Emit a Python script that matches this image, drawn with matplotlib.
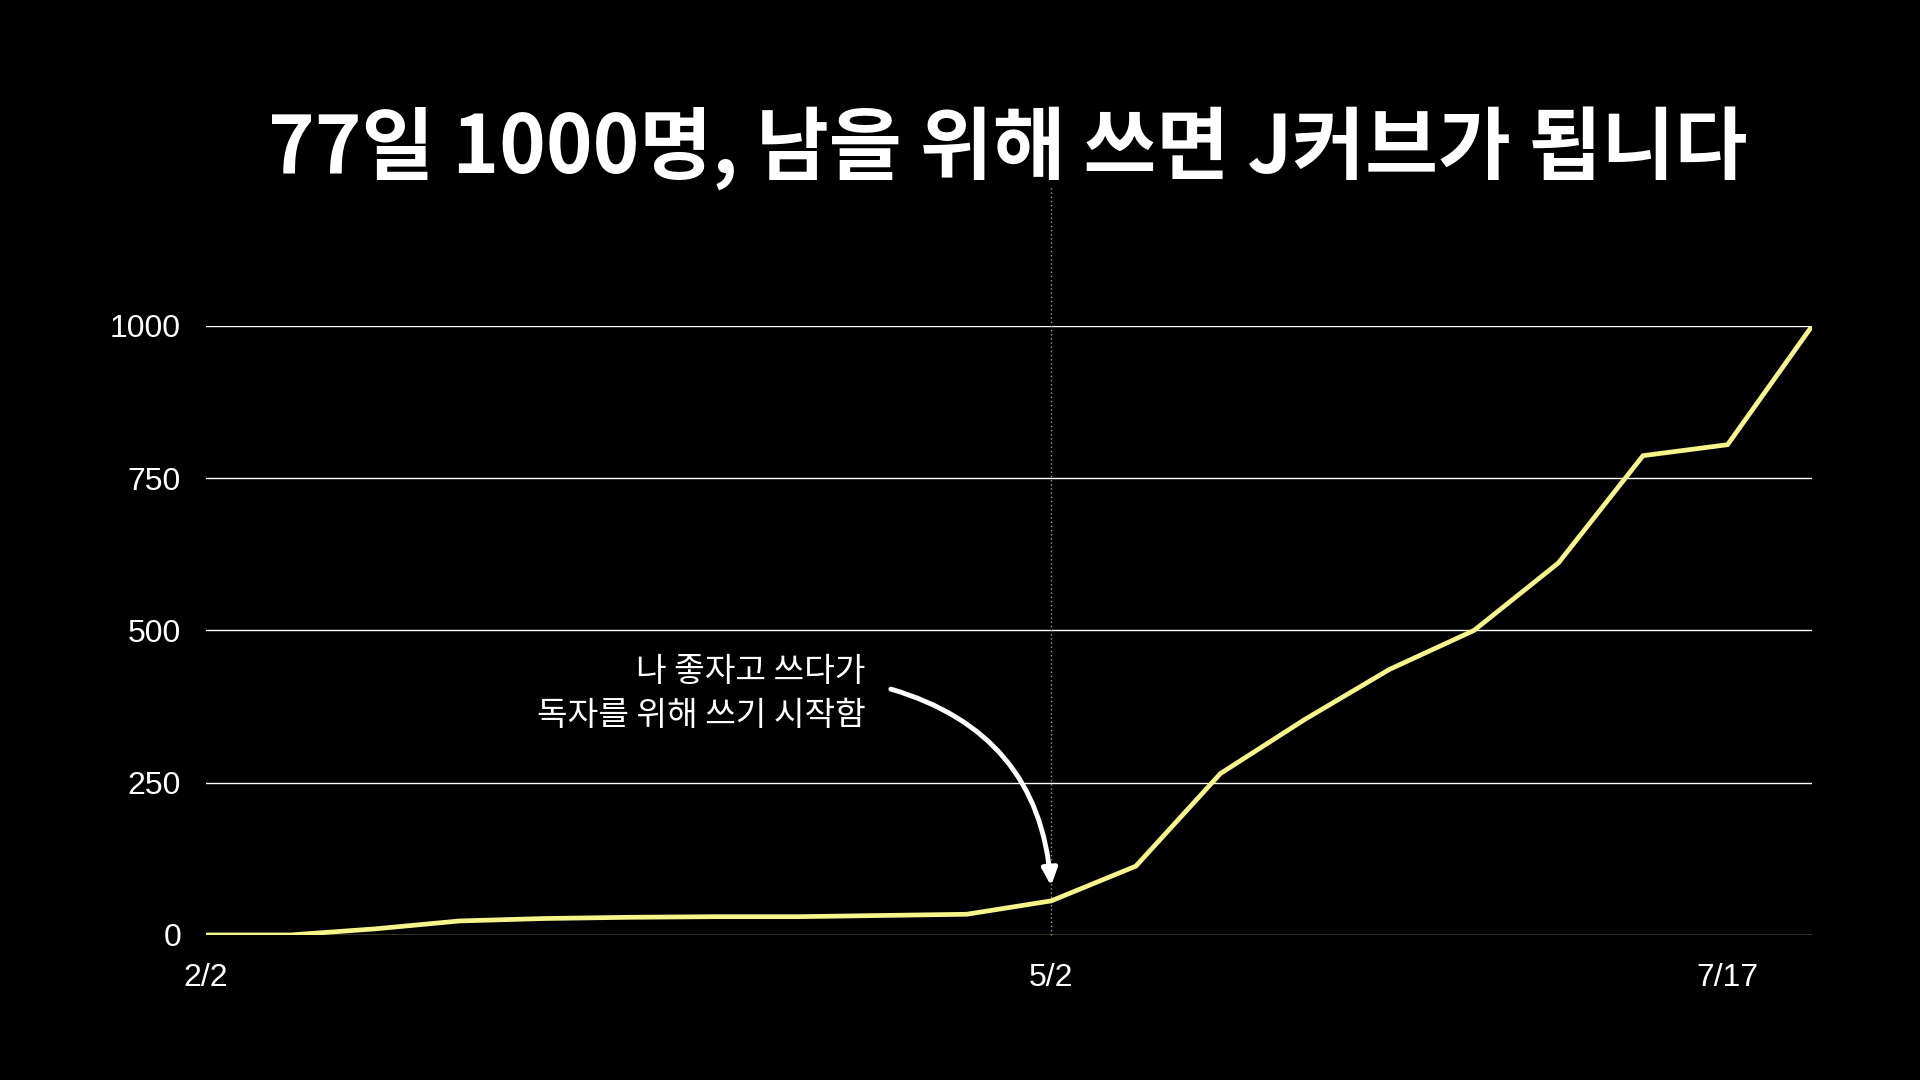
import matplotlib.pyplot as plt

plt.rcParams['font.family'] = ['Noto Sans CJK KR', 'DejaVu Sans']

# readers, one point per step from 2/2 to the end
readers = [0, 0, 10, 23, 27, 29, 30, 30, 32, 34, 56, 113, 265, 354, 436, 500, 611, 787, 805, 1000]
steps = list(range(len(readers)))
tick_pos = [0, 10, 18]
tick_labels = ['2/2', '5/2', '7/17']
y_ticks = [0, 250, 500, 750, 1000]

title = '77일 1000명, 남을 위해 쓰면 J커브가 됩니다'
note = '나 좋자고 쓰다가\n독자를 위해 쓰기 시작함'

line_color = '#f5f58a'

fig = plt.figure(figsize=(19.2, 10.8), dpi=100, facecolor='black')
ax = fig.add_axes([0.1073, 0.1343, 0.8365, 0.5639])
ax.set_facecolor('black')

for v in y_ticks[1:]:
    ax.axhline(v, color='white', lw=1, zorder=1)
ax.axhline(0, color=line_color, lw=1, zorder=1)

# the turning point
ax.axvline(10, ymin=0, ymax=1.23, color='#999999', lw=1, ls=(0, (1, 2)),
           clip_on=False, zorder=1)

ax.plot(steps, readers, color=line_color, lw=3.4, solid_joinstyle='miter', zorder=3)

ax.set_xlim(0, len(readers) - 1)
ax.set_ylim(0, 1000)
ax.set_xticks(tick_pos)
ax.set_xticklabels(tick_labels)
ax.set_yticks(y_ticks)
ax.tick_params(colors='white', labelsize=23, length=0)
ax.tick_params(axis='y', pad=18)
ax.tick_params(axis='x', pad=20)
for lab in ax.get_xticklabels() + ax.get_yticklabels():
    lab.set_family(['Liberation Sans', 'DejaVu Sans'])
for s in ax.spines.values():
    s.set_visible(False)

ax.text(7.8, 397, note, color='white', fontsize=24, ha='right', va='center',
        linespacing=1.33)
ax.annotate('', xy=(10, 76), xytext=(8.07, 405),
            arrowprops=dict(arrowstyle='-|>,head_length=1.0,head_width=0.45',
                            color='white', lw=3.5,
                            connectionstyle='arc3,rad=-0.35'))

fig.text(0.525, 0.862, title, color='white', fontsize=57, fontweight='bold',
         ha='center', va='center')

fig.savefig('out.png', facecolor='black')
